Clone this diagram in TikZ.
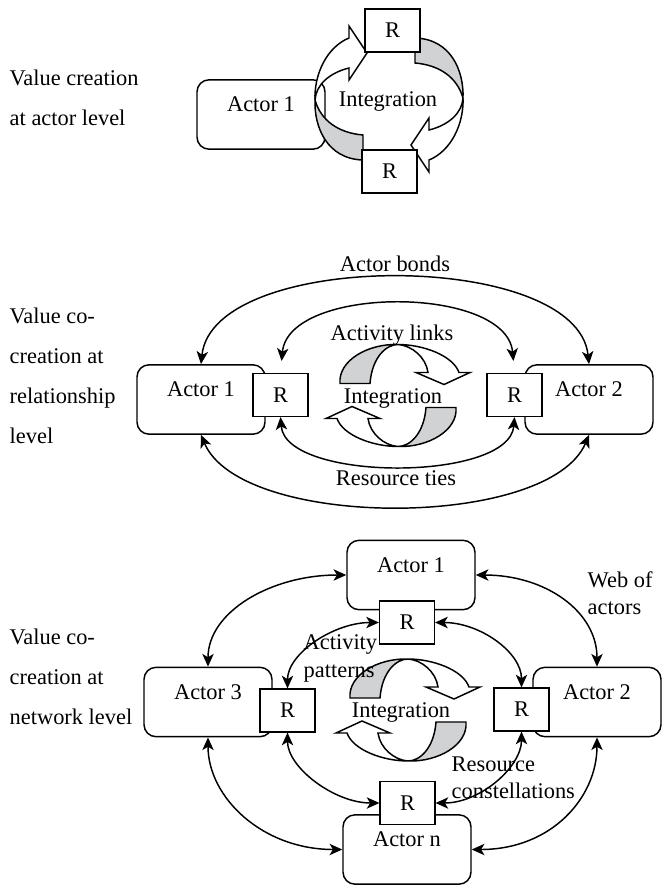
\documentclass[tikz,border=0pt]{standalone}
\usepackage{fontspec}
\setmainfont{Liberation Serif}
\usetikzlibrary{arrows.meta,calc}

\definecolor{bandgray}{RGB}{209,210,212}

\tikzset{every picture/.style={line width=1.1pt}}
\tikzset{
  actor/.style={draw, fill=white, rounded corners=9pt, minimum width=96pt, minimum height=52pt, text height=11pt, text depth=15pt},
  rbox/.style={draw, fill=white, minimum width=41pt, minimum height=32pt, inner sep=0pt},
  lbl/.style={inner sep=0pt, align=left},
  sublbl/.style={inner sep=0pt, align=left, font=\fontsize{16.8}{20.5}\selectfont},
  dblarrow/.style={{Stealth[length=9.5pt,width=8.5pt,inset=2.5pt]}-{Stealth[length=9.5pt,width=8.5pt,inset=2.5pt]}},
  % half of the vertical integration cycle (left arrow), y up inside the pic
  sidearrow/.pic={
    \draw[fill=bandgray] (-74,-1) .. controls (-75,-28) and (-62,-60) .. (-26,-61) -- (-26,-36) .. controls (-50,-34) and (-68,-22) .. (-74,-1) -- cycle;
    \draw[fill=white] (-74,-1) .. controls (-75,25) and (-62,52) .. (-40,61) -- (-40,73) -- (-22,46) -- (-40,19) -- (-40,31) .. controls (-60,26) and (-73,14) .. (-74,-1) -- cycle;
  },
  % half of the horizontal integration cycle (top arrow), y up inside the pic
  toparrow/.pic={
    \draw[fill=bandgray] (-58,12) .. controls (-60,35) and (-30,52) .. (0,51) .. controls (-12,51) and (-26,38) .. (-28,12) -- cycle;
    \draw[fill=white] (0,51) .. controls (25,51) and (55,40) .. (61,23) -- (72,23) -- (46,11) -- (18,23) -- (30,23) .. controls (28,38) and (14,50) .. (0,51) -- cycle;
  }
}

\begin{document}
\begin{tikzpicture}[x=0.75pt,y=0.75pt,yscale=-1,xscale=1,font=\fontsize{16.8}{30}\selectfont]
	\useasboundingbox (0,0) rectangle (663,885);

	%% actor level
	\node[lbl, anchor=west] (lvl1) at (9,98) {Value creation\\at actor level};
	\node[actor] (s1act) at (261,114.5) {Actor 1};
	\pic at (389,99) {sidearrow};
	\pic[rotate=180] at (389,99) {sidearrow};
	\node[rbox] (s1rt) at (392.5,30.5) {R};
	\node[rbox] (s1rb) at (389.5,171.5) {R};
	% Text Node
	\node (s1int) at (388,101) {Integration};

	%% relationship level
	\node[lbl, anchor=west] (lvl2) at (9,376) {Value co-\\creation at\\relationship\\level};
	\node[actor] (s2a) at (201,399.5) {Actor 1};
	\node[actor] (s2b) at (589,399.5) {Actor 2};
	\draw[dblarrow] (s2a.north) .. controls ($(s2a.north)+(12,-115)$) and ($(s2b.north)+(-12,-115)$) .. (s2b.north);
	\draw[dblarrow] (s2a.south) .. controls ($(s2a.south)+(40,95)$) and ($(s2b.south)+(-40,95)$) .. (s2b.south);
	\node[rbox] (s2ra) at (280.5,395) {R};
	\node[rbox] (s2rb) at (514.5,395) {R};
	\draw[dblarrow, shorten <=9pt, shorten >=9pt] (s2ra.north) .. controls ($(s2ra.north)+(8,-88)$) and ($(s2rb.north)+(-8,-88)$) .. (s2rb.north);
	\draw[dblarrow] (s2ra.south) .. controls ($(s2ra.south)+(5,65)$) and ($(s2rb.south)+(-5,65)$) .. (s2rb.south);
	\pic at (398,395.5) {toparrow};
	\pic[rotate=180] at (398,395.5) {toparrow};
	% Text Node
	\node (s2bonds) at (395,264) {Actor bonds};
	\node (s2links) at (392,335) {Activity links};
	\node (s2int) at (393,398) {Integration};
	\node (s2ties) at (396,478) {Resource ties};

	%% network level
	\node[lbl, anchor=west] (lvl3) at (9,677) {Value co-\\creation at\\network level};
	\node[actor] (s3t) at (411,575) {Actor 1};
	\node[actor] (s3l) at (208,702) {Actor 3};
	\node[actor] (s3r) at (597,702) {Actor 2};
	\node[actor] (s3b) at (407,849.5) {Actor n};
	\draw[dblarrow] (s3t.west) .. controls ($(s3t.west)+(-75,0)$) and ($(s3l.north)+(0,-55)$) .. (s3l.north);
	\draw[dblarrow] (s3t.east) .. controls ($(s3t.east)+(70,0)$) and ($(s3r.north)+(0,-55)$) .. (s3r.north);
	\draw[dblarrow] (s3l.south) .. controls ($(s3l.south)+(0,60)$) and ($(s3b.west)+(-80,0)$) .. (s3b.west);
	\draw[dblarrow] (s3r.south) .. controls ($(s3r.south)+(0,60)$) and ($(s3b.east)+(80,0)$) .. (s3b.east);
	\node[rbox] (s3rt) at (407,622.5) {R};
	\node[rbox] (s3rl) at (287.5,710.5) {R};
	\node[rbox] (s3rr) at (521.5,709.5) {R};
	\node[rbox] (s3rb) at (407.5,803) {R};
	\draw[dblarrow] (s3rt.west) .. controls ($(s3rt.west)+(-45,0)$) and ($(s3rl.north)+(0,-35)$) .. (s3rl.north);
	\draw[dblarrow] (s3rt.east) .. controls ($(s3rt.east)+(45,0)$) and ($(s3rr.north)+(0,-35)$) .. (s3rr.north);
	\draw[dblarrow] (s3rl.south) .. controls ($(s3rl.south)+(0,35)$) and ($(s3rb.west)+(-45,0)$) .. (s3rb.west);
	\draw[dblarrow] (s3rr.south) .. controls ($(s3rr.south)+(0,35)$) and ($(s3rb.east)+(45,0)$) .. (s3rb.east);
	\pic at (408,710) {toparrow};
	\pic[rotate=180] at (408,710) {toparrow};
	% Text Node
	\node (s3int) at (401,712) {Integration};
	\node[sublbl, anchor=west] (s3web) at (587,593.5) {Web of\\actors};
	\node[sublbl, anchor=west] (s3act) at (303,658.5) {Activity\\patterns};
	\node[sublbl, anchor=west] (s3res) at (451,778) {Resource\\constellations};

\end{tikzpicture}
\end{document}
